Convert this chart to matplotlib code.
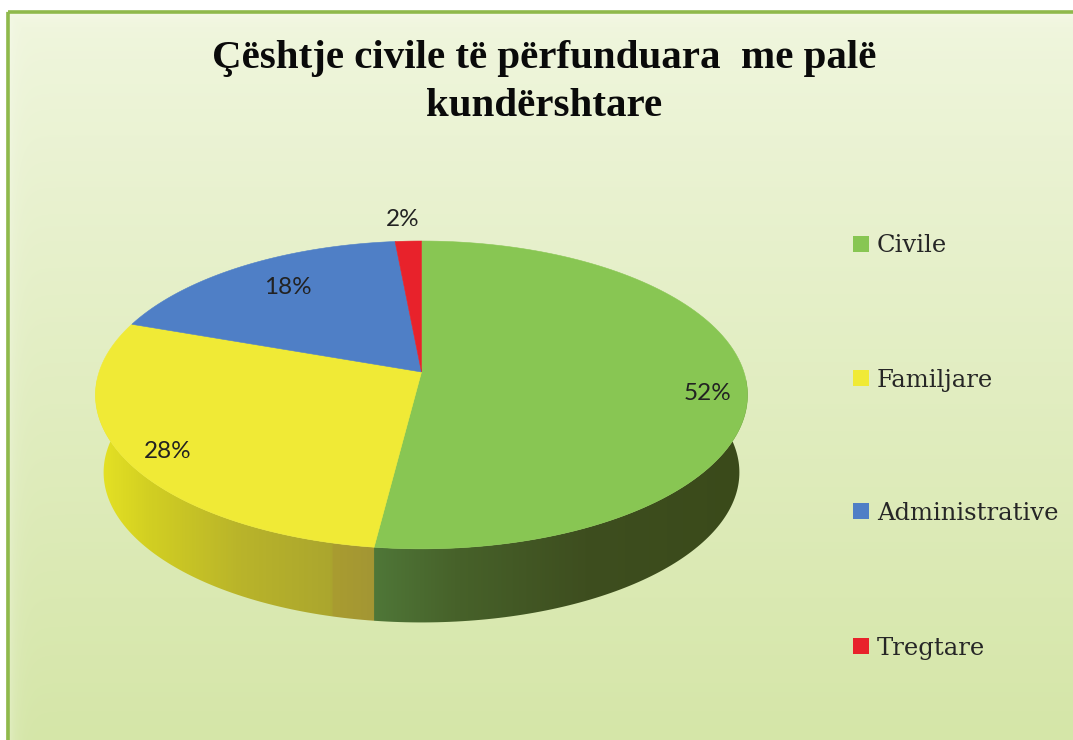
import numpy as np
import matplotlib
matplotlib.use("Agg")
import matplotlib.pyplot as plt
from matplotlib.colors import LinearSegmentedColormap
from matplotlib.patches import Polygon, Rectangle

title_lines = ["Çështje civile të përfunduara  me palë", "kundërshtare"]
categories = ["Civile", "Familjare", "Administrative", "Tregtare"]
shares = [52.0, 28.4, 18.1, 1.5]
top_colors = ["#88c653", "#f0ea36", "#4f7fc6", "#e8222b"]

# pie geometry in pixels
CX, CY = 421.5, 372
A, B, K = 322.4, 150.5, 0.149
BOTTOM_SCALE, BOTTOM_DROP = 0.975, 78
label_xy = [(708, 393), (168, 452), (288, 288), (403, 219)]
legend_y = [244, 378, 511, 646]


def rim(theta, scale=1.0, drop=0.0):
    # theta runs clockwise from 12 o'clock, perspective squeezes the far side
    x, y = np.sin(theta), np.cos(theta)
    d = 1 + K * y
    return CX + scale * A * x / d, CY + drop - scale * B * y / d


fig = plt.figure(figsize=(10.73, 7.40), dpi=100)
ax = fig.add_axes([0, 0, 1, 1])
ax.axis("off")

# background with a pale glow inside the frame, left and top only
W, H = 1067, 729
yy, xx = np.mgrid[0:1:729j, 0:1:1067j]
start = np.array([240, 246, 222]) / 255
end = np.array([213, 230, 168]) / 255
bg = start + (end - start) * (yy[..., None] ** 0.95)
edge = np.minimum(xx * W, yy * H)
bg = bg + (1 - bg) * 0.4 * np.exp(-edge / 7)[..., None]
ax.imshow(bg, extent=(6, 1073, 740, 11), aspect="auto", zorder=0, interpolation="bilinear")
ax.add_patch(Rectangle((7.5, 11.5), 1080, 740, fill=False, ec="#8fb94c", lw=2.6, zorder=1))

# slice angles
edges = np.radians(np.concatenate([[0], np.cumsum(shares)]) * 3.6)

# side wall, only the front half shows
side_cmap = LinearSegmentedColormap.from_list("side", [
    (0.0, "#e6e324"), (0.08, "#d2cf22"), (0.22, "#b9b42a"), (0.36, "#aba62e"),
    (0.364, "#a99c30"), (0.425, "#a39634"), (0.426, "#4f7738"), (0.55, "#47622a"),
    (0.75, "#3e4e1f"), (1.0, "#3a4a1a"),
])
t = np.linspace(np.radians(83), np.radians(277), 200)
xt, yt = rim(t)
xb, yb = rim(t, BOTTOM_SCALE, BOTTOM_DROP)
outline = np.column_stack([np.r_[xt, xb[::-1]], np.r_[yt, yb[::-1]]])
wall = Polygon(outline, closed=True, fc="none", ec="none", zorder=2)
ax.add_patch(wall)
grad = ax.imshow(np.linspace(0, 1, 600)[None, :], cmap=side_cmap, extent=(95, 749, 640, 380),
                 aspect="auto", zorder=2, interpolation="bilinear")
grad.set_clip_path(wall)

ax.set_xlim(0, 1073)
ax.set_ylim(740, 0)

# top face
for i, colour in enumerate(top_colors):
    t = np.linspace(edges[i], edges[i + 1], 120)
    x, y = rim(t)
    pts = np.column_stack([np.r_[CX, x], np.r_[CY, y]])
    ax.add_patch(Polygon(pts, closed=True, fc=colour, ec=colour, lw=0.4, zorder=3))

for (lx, ly), val in zip(label_xy, shares):
    ax.text(lx, ly, f"{round(val)}%", family="Lato", fontsize=17.5, color="#222222",
            ha="center", va="center", zorder=4)

for name, colour, ly in zip(categories, top_colors, legend_y):
    ax.add_patch(Rectangle((853, ly - 8), 16, 16, fc=colour, ec="none", zorder=4))
    ax.text(877, ly + 8.5, name, family="DejaVu Serif", fontsize=17.5, color="#262626",
            ha="left", va="baseline", zorder=4)

ax.text(544, 68, title_lines[0], family="Liberation Serif", weight="bold", fontsize=29.5,
        color="#0a0a0a", ha="center", va="baseline", zorder=4)
ax.text(544, 116, title_lines[1], family="Liberation Serif", weight="bold", fontsize=29.5,
        color="#0a0a0a", ha="center", va="baseline", zorder=4)

fig.savefig("out.png", dpi=100, facecolor="white")
